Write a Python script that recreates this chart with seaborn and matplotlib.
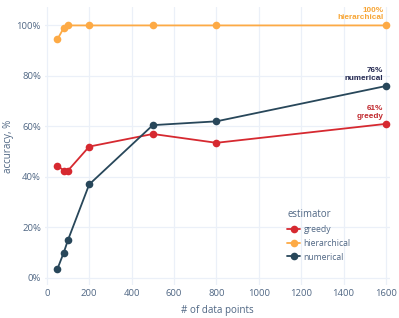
import matplotlib
matplotlib.use("Agg")
import matplotlib.pyplot as plt
import seaborn as sns
import pandas as pd
from matplotlib.ticker import FuncFormatter

x_points = [50, 80, 100, 200, 500, 800, 1600]
greedy = [44.5, 42.5, 42.5, 52, 57, 53.5, 61]
hierarchical = [94.5, 99, 100, 100, 100, 100, 100]
numerical = [3.5, 10, 15, 37, 60.5, 62, 76]
estimators = ["greedy", "hierarchical", "numerical"]
colors = {"greedy": "#d62930", "hierarchical": "#fdaa45", "numerical": "#28475a"}
label_colors = {"greedy": "#c0282d", "hierarchical": "#f7a535", "numerical": "#232850"}

df = pd.concat([
    pd.DataFrame({"n": x_points, "acc": vals, "estimator": name})
    for name, vals in zip(estimators, [greedy, hierarchical, numerical])
])

sns.set_theme(style="white")
plt.rcParams['font.family'] = ['Open Sans', 'DejaVu Sans']

fig = plt.figure(figsize=(3.99, 3.18), dpi=100)
ax = fig.add_axes([0.113, 0.104, 0.864, 0.874])

sns.lineplot(data=df, x="n", y="acc", hue="estimator", hue_order=estimators,
             palette=colors, marker="o", markersize=5.5, markeredgewidth=0,
             linewidth=1.3, ax=ax, legend=True)

ax.set_xlim(-8, 1618)
ax.set_ylim(-2.8, 107.3)
ax.set_xticks([0, 200, 400, 600, 800, 1000, 1200, 1400, 1600])
ax.set_yticks([0, 20, 40, 60, 80, 100])
ax.yaxis.set_major_formatter(FuncFormatter(lambda v, p: f"{int(v)}%"))
ax.grid(True, color="#ebf0f8", linewidth=0.9)
ax.set_axisbelow(True)
for s in ax.spines.values():
    s.set_visible(False)
tick_color = "#506784"
ax.tick_params(axis="both", colors=tick_color, labelsize=6.8, length=0, pad=3)
ax.set_xlabel("# of data points", color=tick_color, fontsize=7.1, labelpad=5)
ax.set_ylabel("accuracy, %", color=tick_color, fontsize=7.1)
ax.yaxis.set_label_coords(-0.09, 0.5)

# end labels
last = {"greedy": greedy[-1], "hierarchical": hierarchical[-1], "numerical": numerical[-1]}
for name in estimators:
    v = last[name]
    ax.annotate(f"{int(v)}%\n{name}", xy=(x_points[-1], v), xytext=(-2, 3),
                textcoords="offset points", ha="right", va="bottom",
                fontsize=5.9, fontweight="bold", color=label_colors[name],
                linespacing=1.15, family=["Liberation Sans", "DejaVu Sans"])

leg = ax.legend(title="estimator", loc="upper left", bbox_to_anchor=(0.68, 0.30),
                frameon=False, fontsize=6.2, title_fontsize=6.9,
                handlelength=1.5, handletextpad=0.4, labelspacing=0.55,
                alignment="left")
leg.get_title().set_color(tick_color)
for t in leg.get_texts():
    t.set_color(tick_color)

fig.savefig("out.png", dpi=100)
